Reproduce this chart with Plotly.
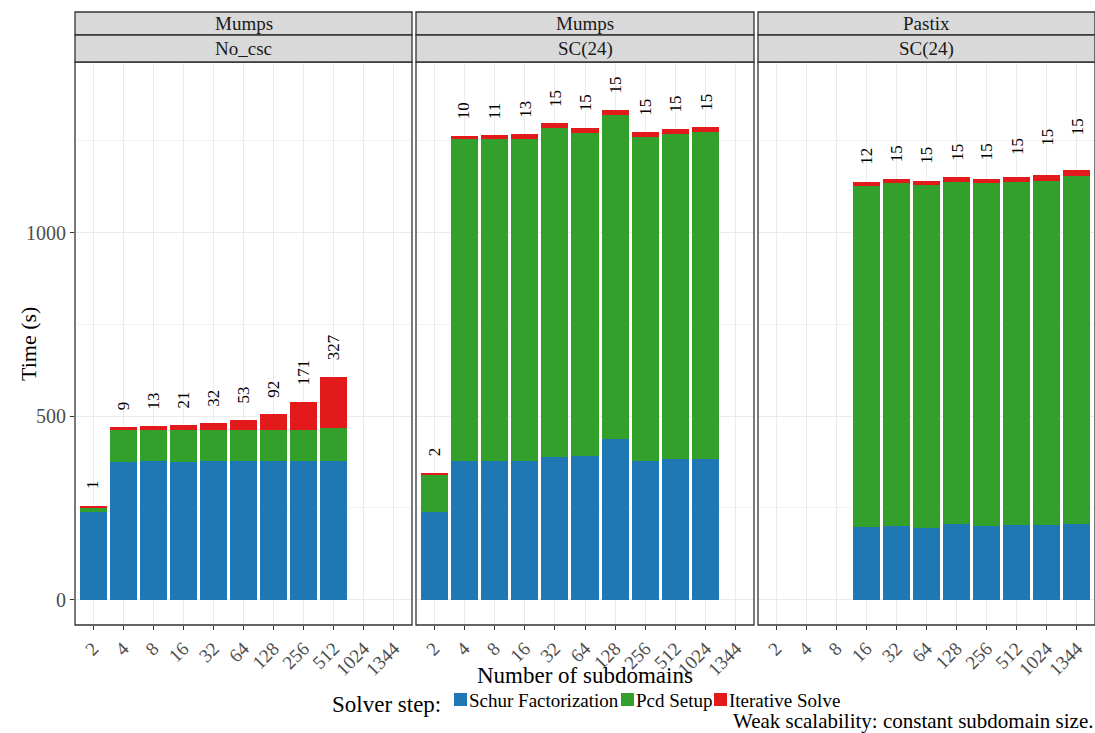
import plotly.graph_objects as go

# ---------------- data ----------------
categories = ["2", "4", "8", "16", "32", "64", "128", "256", "512", "1024", "1344"]
steps = ["Schur Factorization", "Pcd Setup", "Iterative Solve"]
step_colors = ["#1F78B4", "#33A02C", "#E31A1C"]

# Panel A: Mumps / No_csc
cats_a = ["2", "4", "8", "16", "32", "64", "128", "256", "512"]
schur_a = [238, 375, 378, 375, 378, 378, 378, 378, 378]
pcd_a = [13, 88, 85, 88, 85, 85, 85, 85, 90]
solve_a = [5, 8, 10, 13, 18, 27, 43, 76, 139]
iters_a = [1, 9, 13, 21, 32, 53, 92, 171, 327]

# Panel B: Mumps / SC(24)
cats_b = ["2", "4", "8", "16", "32", "64", "128", "256", "512", "1024"]
schur_b = [239, 377, 378, 377, 389, 392, 438, 378, 383, 383]
pcd_b = [101, 877, 877, 878, 896, 879, 883, 883, 887, 891]
solve_b = [5, 10, 11, 14, 14, 14, 13, 13, 13, 14]
iters_b = [2, 10, 11, 13, 15, 15, 15, 15, 15, 15]

# Panel C: Pastix / SC(24)
cats_c = ["16", "32", "64", "128", "256", "512", "1024", "1344"]
schur_c = [198, 202, 196, 207, 202, 203, 203, 207]
pcd_c = [930, 934, 934, 931, 934, 935, 938, 948]
solve_c = [10, 10, 11, 14, 10, 14, 16, 16]
iters_c = [12, 15, 15, 15, 15, 15, 15, 15]
total_time_c = [1140, 1147, 1143, 1152, 1153, 1168, 1193, 1222]

strip_top = ["Mumps", "Mumps", "Pastix"]
strip_bottom = ["No_csc", "SC(24)", "SC(24)"]

FONT = "Liberation Serif"
W, H = 1095, 733
ML, MR, MT, MB = 75, 0, 62, 108
PW = W - ML - MR
PH = H - MT - MB


def px_x(p):
    return (p - ML) / PW


def px_y(p):
    return (H - MB - p) / PH


domains = [[px_x(75), px_x(412)], [px_x(416), px_x(754)], [px_x(758), 1.0]]

panels = [
    (cats_a, [schur_a, pcd_a, solve_a], iters_a, None),
    (cats_b, [schur_b, pcd_b, solve_b], iters_b, None),
    (cats_c, [schur_c, pcd_c, solve_c], iters_c, total_time_c),
]

fig = go.Figure()
annotations = []
shapes = []
LABEL_OFFSET = 39

for i, (cats, series, iters, tot) in enumerate(panels):
    xa = "x" if i == 0 else f"x{i+1}"
    ya = "y" if i == 0 else f"y{i+1}"
    for s, (name, col) in enumerate(zip(steps, step_colors)):
        fig.add_trace(go.Bar(
            x=cats, y=series[s], name=name, marker=dict(color=col, line=dict(width=0)),
            xaxis=xa, yaxis=ya, showlegend=False, legendgroup=name,
        ))
    totals = [a + b + c for a, b, c in zip(*series)]
    base = tot if tot is not None else totals
    for c, it, t in zip(cats, iters, base):
        annotations.append(dict(
            x=categories.index(c), y=t + LABEL_OFFSET, xref=xa, yref=ya, text=str(it),
            showarrow=False, textangle=-90, yanchor="bottom", xanchor="center",
            font=dict(family=FONT, size=17, color="black"),
        ))
    d0, d1 = domains[i]
    shapes.append(dict(type="rect", xref="paper", yref="paper", x0=d0, x1=d1, y0=0, y1=1,
                       line=dict(color="#333333", width=1.3), fillcolor="rgba(0,0,0,0)", layer="above"))
    y_top, y_mid = px_y(12), px_y(35)
    shapes.append(dict(type="rect", xref="paper", yref="paper", x0=d0, x1=d1, y0=y_mid, y1=y_top,
                       line=dict(color="#333333", width=1.3), fillcolor="#D9D9D9"))
    shapes.append(dict(type="rect", xref="paper", yref="paper", x0=d0, x1=d1, y0=1, y1=y_mid,
                       line=dict(color="#333333", width=1.3), fillcolor="#D9D9D9"))
    annotations.append(dict(x=(d0 + d1) / 2, y=(y_top + y_mid) / 2, xref="paper", yref="paper",
                            text=strip_top[i], showarrow=False, xanchor="center", yanchor="middle",
                            font=dict(family=FONT, size=19, color="#1A1A1A")))
    annotations.append(dict(x=(d0 + d1) / 2, y=(y_mid + 1) / 2, xref="paper", yref="paper",
                            text=strip_bottom[i], showarrow=False, xanchor="center", yanchor="middle",
                            font=dict(family=FONT, size=19, color="#1A1A1A")))

# axis titles & caption
annotations.append(dict(x=px_x(585), y=px_y(675), xref="paper", yref="paper", text="Number of subdomains",
                        showarrow=False, xanchor="center", yanchor="middle",
                        font=dict(family=FONT, size=23, color="black")))
annotations.append(dict(x=px_x(28), y=px_y(344), xref="paper", yref="paper", text="Time (s)",
                        showarrow=False, textangle=-90, xanchor="center", yanchor="middle",
                        font=dict(family=FONT, size=22, color="black")))
annotations.append(dict(x=1.0, y=px_y(721), xref="paper", yref="paper", xanchor="right", yanchor="middle",
                        text="Weak scalability: constant subdomain size.",
                        showarrow=False, font=dict(family=FONT, size=21, color="black")))

# manual legend (key row)
annotations.append(dict(x=px_x(443), y=px_y(704), xref="paper", yref="paper", xanchor="right",
                        yanchor="middle", text="Solver step:", showarrow=False,
                        font=dict(family=FONT, size=23, color="black")))
key_x = [454, 621, 714]
for name, col, kx in zip(steps, step_colors, key_x):
    shapes.append(dict(type="rect", xref="paper", yref="paper", x0=px_x(kx), x1=px_x(kx + 13),
                       y0=px_y(706), y1=px_y(693), fillcolor=col, line=dict(width=0)))
    annotations.append(dict(x=px_x(kx + 13), y=px_y(700), xref="paper", yref="paper", xanchor="left",
                            yanchor="middle", text=name, showarrow=False,
                            font=dict(family=FONT, size=19, color="black")))

xaxis_common = dict(
    type="category", categoryorder="array", categoryarray=categories, range=[-0.6, 10.6],
    showgrid=True, gridcolor="#EBEBEB", gridwidth=1, tickangle=-45,
    ticks="outside", ticklen=4, tickcolor="#333333", showline=False, zeroline=False,
    tickfont=dict(family=FONT, size=19, color="#4D4D4D"), fixedrange=True, automargin=False,
)
yaxis_common = dict(
    range=[-69, 1465], tickvals=[0, 500, 1000], showgrid=True, gridcolor="#EBEBEB", gridwidth=1,
    minor=dict(tickvals=[250, 750, 1250], showgrid=True, gridcolor="#F3F3F3", gridwidth=0.6),
    zeroline=False, showline=False, ticks="outside", ticklen=4, tickcolor="#333333",
    tickfont=dict(family=FONT, size=20, color="#4D4D4D"), automargin=False,
)

layout_axes = {}
for i in range(3):
    sx = "" if i == 0 else str(i + 1)
    layout_axes[f"xaxis{sx}"] = dict(xaxis_common, domain=domains[i], anchor=f"y{sx}")
    ya = dict(yaxis_common, domain=[0, 1], anchor=f"x{sx}")
    if i > 0:
        ya.update(showticklabels=False, ticks="", matches="y")
    layout_axes[f"yaxis{sx}"] = ya

fig.update_layout(
    width=W, height=H, barmode="stack", bargap=0.1,
    margin=dict(l=ML, r=MR, t=MT, b=MB, autoexpand=False),
    paper_bgcolor="white", plot_bgcolor="white",
    font=dict(family=FONT, color="black"),
    annotations=annotations, shapes=shapes, showlegend=False,
    **layout_axes,
)

fig.write_html("out.html", config={"displayModeBar": False},
               post_script="document.body.style.margin='0';document.body.style.overflow='hidden';")
